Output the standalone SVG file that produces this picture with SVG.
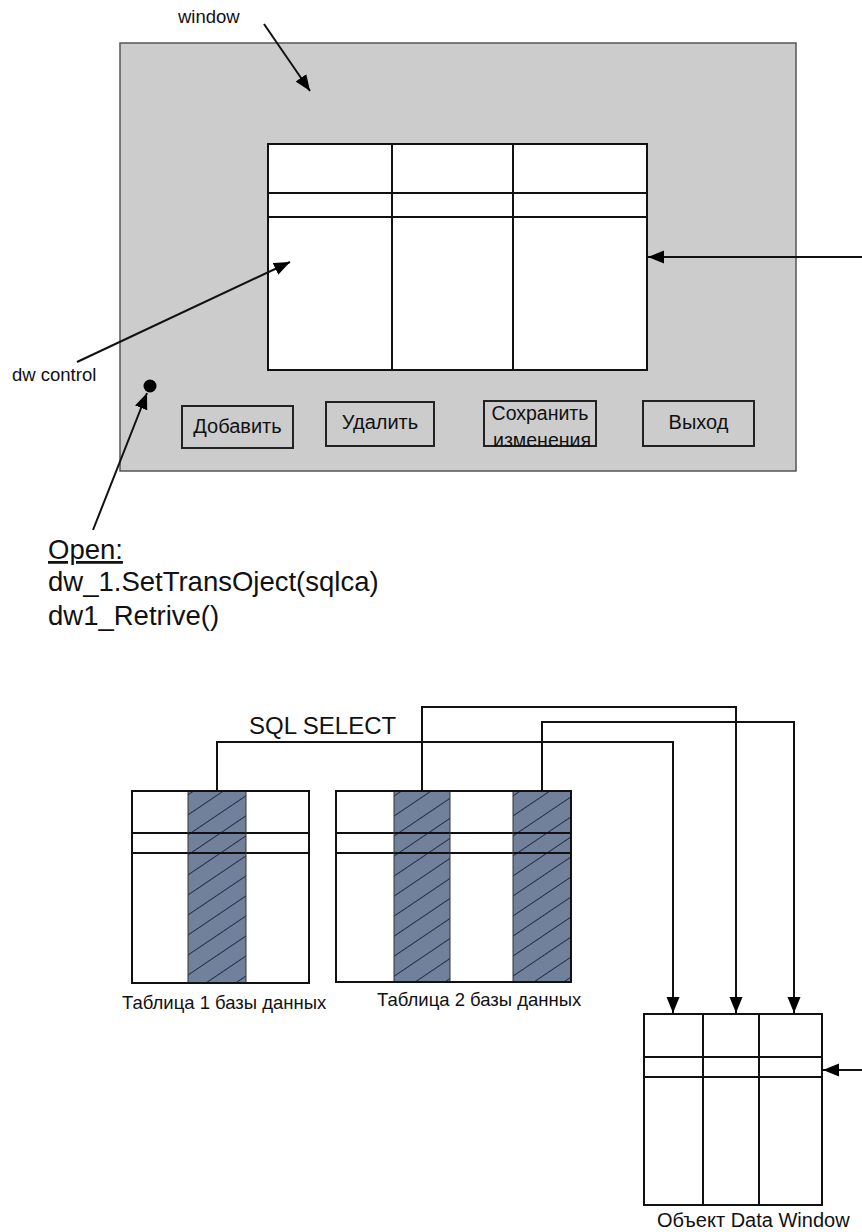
<svg xmlns="http://www.w3.org/2000/svg" width="862" height="1232" viewBox="0 0 862 1232">
<style>
text{font-family:"Liberation Sans",Arial,sans-serif;fill:#111}
.grid{fill:none;stroke:#111;stroke-width:2}
.cell{fill:#fff;stroke:#111;stroke-width:2}
.btn{fill:none;stroke:#222;stroke-width:2}
.conn{fill:none;stroke:#111;stroke-width:2}
.shade{fill:url(#hatch);stroke:none}
</style>
<defs>
<marker id="arr" markerUnits="userSpaceOnUse" markerWidth="18" markerHeight="14" refX="16" refY="7" orient="auto">
<path d="M0,0.5 L16,7 L0,13.5 Z" fill="#000"/>
</marker>
<pattern id="hatch" patternUnits="userSpaceOnUse" width="20" height="16.6" patternTransform="rotate(-34)">
<rect width="20" height="16.6" fill="#71819c"/>
<line x1="0" y1="0.5" x2="20" y2="0.5" stroke="#1e2535" stroke-width="0.9"/>
</pattern>
</defs>

<g id="window">
<rect x="120" y="43" width="676" height="428" fill="#cccccc" stroke="#555" stroke-width="1.5"/>
</g>
<g id="window-label"><text x="178" y="23" font-size="18.5">window</text></g>

<g id="dw-grid">
<rect class="cell" x="268" y="144" width="379" height="226"/>
<line class="grid" x1="268" y1="193" x2="647" y2="193"/>
<line class="grid" x1="268" y1="217" x2="647" y2="217"/>
<line class="grid" x1="392" y1="144" x2="392" y2="370"/>
<line class="grid" x1="513" y1="144" x2="513" y2="370"/>
</g>

<g id="dw-control-label"><text x="12" y="381" font-size="18.5">dw control</text></g>
<g id="dot"><circle cx="150" cy="386" r="6.5" fill="#000"/></g>

<g id="btn-add"><rect class="btn" x="182" y="406" width="111" height="42"/><text x="237.5" y="433" font-size="20" text-anchor="middle">Добавить</text></g>
<g id="btn-del"><rect class="btn" x="326" y="402" width="108" height="44"/><text x="380" y="429" font-size="20" text-anchor="middle">Удалить</text></g>
<g id="btn-save"><rect class="btn" x="484" y="401" width="112" height="45"/><text x="540" y="420" font-size="19.5" text-anchor="middle">Сохранить</text><text x="542" y="447" font-size="19.5" text-anchor="middle">изменения</text></g>
<g id="btn-exit"><rect class="btn" x="643" y="401" width="111" height="45"/><text x="698.5" y="429" font-size="20" text-anchor="middle">Выход</text></g>

<g id="open-text">
<text x="48" y="559" font-size="27.5" text-decoration="underline">Open:</text>
<text x="48" y="591" font-size="27.5">dw_1.SetTransOject(sqlca)</text>
<text x="48" y="625" font-size="27.5">dw1_Retrive()</text>
</g>

<g id="table1">
<rect class="cell" x="132" y="791" width="177" height="192"/>
<rect class="shade" x="188" y="792" width="58" height="190"/>
<line class="grid" x1="132" y1="833" x2="309" y2="833"/>
<line class="grid" x1="132" y1="853" x2="309" y2="853"/>
<line x1="188" y1="791" x2="188" y2="983" stroke="#333" stroke-width="1"/>
<line x1="246" y1="791" x2="246" y2="983" stroke="#333" stroke-width="1"/>
<rect class="grid" x="132" y="791" width="177" height="192"/>
<text x="122" y="1009" font-size="18.5">Таблица 1 базы данных</text>
</g>

<g id="table2">
<rect class="cell" x="336" y="791" width="235" height="191"/>
<rect class="shade" x="394" y="792" width="56" height="189"/>
<rect class="shade" x="513" y="792" width="58" height="189"/>
<line class="grid" x1="336" y1="833" x2="571" y2="833"/>
<line class="grid" x1="336" y1="853" x2="571" y2="853"/>
<line x1="394" y1="791" x2="394" y2="982" stroke="#333" stroke-width="1"/>
<line x1="450" y1="791" x2="450" y2="982" stroke="#333" stroke-width="1"/>
<line x1="513" y1="791" x2="513" y2="982" stroke="#333" stroke-width="1"/>
<rect class="grid" x="336" y="791" width="235" height="191"/>
<text x="377" y="1006" font-size="18.5">Таблица 2 базы данных</text>
</g>

<g id="sql-label"><text x="249" y="734" font-size="24">SQL SELECT</text></g>

<g id="dw-object">
<rect class="cell" x="644" y="1014" width="178" height="191"/>
<line class="grid" x1="644" y1="1057" x2="822" y2="1057"/>
<line class="grid" x1="644" y1="1077" x2="822" y2="1077"/>
<line class="grid" x1="703" y1="1014" x2="703" y2="1205"/>
<line class="grid" x1="759" y1="1014" x2="759" y2="1205"/>
<text x="657" y="1227" font-size="20">Объект Data Window</text>
</g>

<g id="connectors">
<line class="conn" x1="264" y1="24" x2="310" y2="91" marker-end="url(#arr)"/>
<line class="conn" x1="862" y1="257" x2="648" y2="257" marker-end="url(#arr)"/>
<line class="conn" x1="77" y1="362" x2="290" y2="262" marker-end="url(#arr)"/>
<line class="conn" x1="93" y1="530" x2="147" y2="393" marker-end="url(#arr)"/>
<polyline class="conn" points="217,791 217,742 673,742 673,1013" marker-end="url(#arr)"/>
<polyline class="conn" points="422,791 422,707 736,707 736,1013" marker-end="url(#arr)"/>
<polyline class="conn" points="542,791 542,722 794,722 794,1013" marker-end="url(#arr)"/>
<line class="conn" x1="862" y1="1070" x2="823" y2="1070" marker-end="url(#arr)"/>
</g>
</svg>
